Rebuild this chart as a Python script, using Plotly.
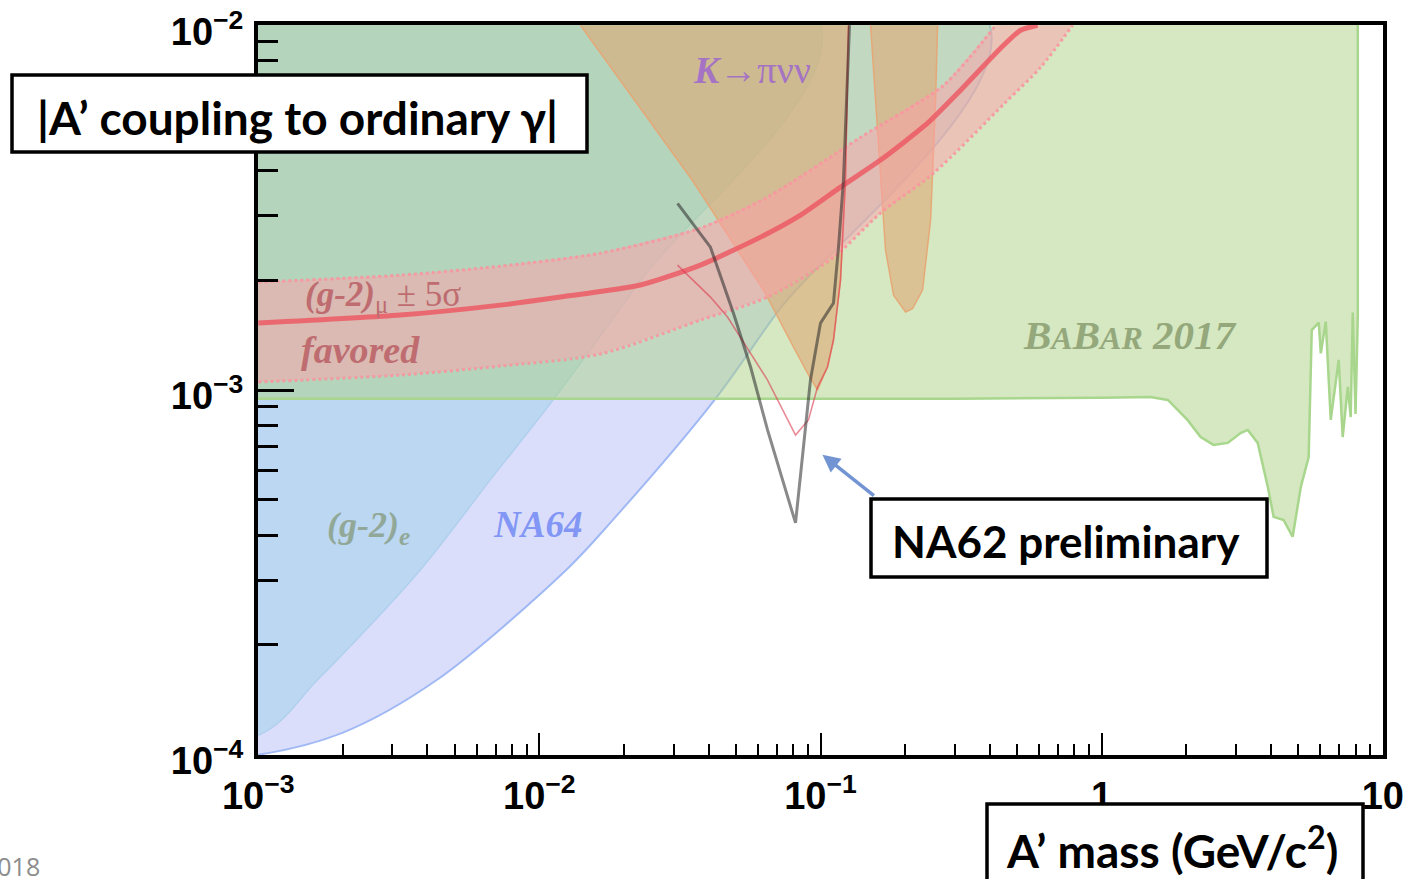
import numpy as np
import plotly.graph_objects as go

# ---------------- data ----------------
# NA64 exclusion edge (region above-left is excluded)
na64_x = [1e-3, 2.0e-3, 4.3e-3, 1.24e-2, 1.8e-2, 4.2e-2, 7.0e-2, 0.40]
na64_y = [1.0e-4, 1.15e-4, 1.6e-4, 3.2e-4, 4.35e-4, 9.4e-4, 1.63e-3, 1e-2]

# (g-2)_e exclusion edge
ge_x = [1e-3, 1.62e-3, 3.77e-3, 6.69e-3, 1.12e-2, 2.29e-2, 0.10]
ge_y = [1.13e-4, 1.6e-4, 3.21e-4, 5.67e-4, 9.4e-4, 2.0e-3, 1e-2]

# BaBar 2017 lower edge
bb_x = [1e-3, 0.3, 1.0, 1.49, 1.72, 2.02, 2.25, 2.50, 2.81, 3.12, 3.31, 3.59, 3.90, 4.09,
        4.44, 4.78, 5.11, 5.45, 5.59, 5.92, 6.02, 6.27, 6.53, 6.97, 7.20, 7.51, 7.69,
        7.82, 8.0, 8.15]
bb_y = [9.45e-4, 9.47e-4, 9.52e-4, 9.57e-4, 9.39e-4, 8.28e-4, 7.43e-4, 7.07e-4, 7.16e-4,
        7.62e-4, 7.77e-4, 7.16e-4, 5.42e-4, 4.49e-4, 4.40e-4, 3.96e-4, 5.42e-4, 6.55e-4,
        1.46e-3, 1.53e-3, 1.26e-3, 1.54e-3, 8.28e-4, 1.21e-3, 7.43e-4, 1.02e-3, 8.43e-4,
        1.63e-3, 8.6e-4, 1.59e-3]

# K -> pi nu nu excluded regions
k_x = [1.40e-2, 3.50e-2, 6.27e-2, 7.21e-2, 8.02e-2, 8.99e-2, 9.76e-2, 0.1059, 0.1112,
       0.1178, 0.1227, 0.1258]
k_y = [1e-2, 3.76e-3, 1.88e-3, 1.526e-3, 1.311e-3, 1.113e-3, 1.0e-3, 1.156e-3, 1.371e-3,
       2.0e-3, 3.76e-3, 1e-2]
k2_x = [0.1507, 0.1609, 0.1703, 0.1819, 0.2007, 0.2125, 0.2307, 0.2464, 0.2567, 0.2609]
k2_y = [1e-2, 4.54e-3, 2.42e-3, 1.82e-3, 1.636e-3, 1.67e-3, 1.88e-3, 2.92e-3, 6.23e-3, 1e-2]

# (g-2)_mu favoured band
gm_x = [1e-3, 3.20e-3, 7.26e-3, 1.188e-2, 2.288e-2, 3.74e-2, 6.12e-2, 8.49e-2, 0.1178,
        0.1635, 0.2403, 0.3150, 0.4371, 0.5149, 0.5918]
gm_y = [1.526e-3, 1.605e-3, 1.709e-3, 1.798e-3, 1.94e-3, 2.2e-3, 2.625e-3, 3.017e-3, 3.6e-3,
        4.27e-3, 5.39e-3, 6.64e-3, 8.65e-3, 9.69e-3, 1e-2]
gmu_x = [1e-3, 3.20e-3, 7.26e-3, 1.649e-2, 3.74e-2, 6.48e-2, 0.1388, 0.2740, 0.4196]
gmu_y = [1.976e-3, 2.065e-3, 2.186e-3, 2.373e-3, 2.78e-3, 3.38e-3, 4.93e-3, 6.85e-3, 1e-2]
gml_x = [1e-3, 3.20e-3, 7.26e-3, 1.649e-2, 3.74e-2, 6.48e-2, 0.1112, 0.1635, 0.2525,
         0.4553, 0.6067, 0.7884]
gml_y = [1.052e-3, 1.099e-3, 1.163e-3, 1.255e-3, 1.555e-3, 1.798e-3, 2.31e-3, 3.055e-3,
         3.93e-3, 6.15e-3, 7.67e-3, 1e-2]

# NA62 preliminary limits
n62b_x = [3.10e-2, 4.06e-2, 4.30e-2, 4.90e-2, 5.64e-2, 6.48e-2, 8.15e-2, 8.70e-2, 9.21e-2,
          0.100, 0.1112, 0.1159, 0.1207, 0.1268]
n62b_y = [3.25e-3, 2.464e-3, 2.17e-3, 1.626e-3, 1.156e-3, 7.77e-4, 4.32e-4, 6.98e-4, 1.065e-3,
          1.526e-3, 1.731e-3, 2.464e-3, 3.76e-3, 1e-2]
n62r_x = [3.10e-2, 4.06e-2, 4.67e-2, 6.48e-2, 8.15e-2, 9.06e-2, 9.76e-2, 0.1059, 0.1112,
          0.1178, 0.1227, 0.1258]
n62r_y = [2.2e-3, 1.798e-3, 1.585e-3, 1.065e-3, 7.52e-4, 8.28e-4, 1.019e-3, 1.156e-3, 1.371e-3,
          2.0e-3, 3.76e-3, 1e-2]

x_tickvals = [1e-3, 1e-2, 1e-1, 1, 10]
x_ticktext = ["10<sup>\u22123</sup>", "10<sup>\u22122</sup>", "10<sup>\u22121</sup>", "1", "10"]
y_tickvals = [1e-4, 1e-3, 1e-2]
y_ticktext = ["10<sup>\u22124</sup>", "10<sup>\u22123</sup>", "10<sup>\u22122</sup>"]

XMIN, XMAX, YMIN, YMAX = 1e-3, 10.0, 1e-4, 1e-2
# far-away corner used only to close polygons outside the visible frame
FAR_X, FAR_Y = 1e-4, 1e-1

# ---------------- layout geometry ----------------
W, H = 1410, 879
L, R, T, B = 258, 1383, 25, 755
EPS = 0.0008  # tiny range padding so that edge ticks are kept


def px(xp):
    return (xp - L) / (R - L)


def py(yp):
    return (B - yp) / (B - T)


fig = go.Figure()

# NA64 (lavender)
fig.add_trace(go.Scatter(
    x=[FAR_X] + na64_x + [FAR_X], y=[YMIN * 0.9] + na64_y + [FAR_Y], fill="toself", mode="lines",
    fillcolor="rgb(219,222,250)", line=dict(color="rgb(160,185,245)", width=2, shape="spline",
                                            smoothing=0.9),
    hoverinfo="skip", showlegend=False))

# (g-2)_e (light blue)
fig.add_trace(go.Scatter(
    x=[FAR_X] + ge_x + [FAR_X], y=[ge_y[0] * 0.9] + ge_y + [FAR_Y], fill="toself", mode="lines",
    fillcolor="rgb(188,215,241)", line=dict(color="rgb(175,208,238)", width=1.5, shape="spline",
                                            smoothing=0.9),
    hoverinfo="skip", showlegend=False))

# BaBar 2017 (green, translucent)
fig.add_trace(go.Scatter(
    x=[FAR_X] + bb_x + [bb_x[-1], FAR_X], y=[bb_y[0]] + bb_y + [FAR_Y, FAR_Y], fill="toself",
    mode="lines", fillcolor="rgba(171,209,133,0.5)", line=dict(color="rgb(168,214,140)", width=2.5),
    hoverinfo="skip", showlegend=False))

# K -> pi nu nu (tan, translucent)
for xs, ys in ((k_x, k_y), (k2_x, k2_y)):
    fig.add_trace(go.Scatter(
        x=xs, y=ys, fill="toself", mode="lines",
        fillcolor="rgba(222,168,117,0.6)", line=dict(color="rgba(232,165,115,0.9)", width=1.5),
        hoverinfo="skip", showlegend=False))

# (g-2)_mu band
fig.add_trace(go.Scatter(
    x=gmu_x + gml_x[::-1], y=gmu_y + gml_y[::-1], fill="toself", mode="none",
    fillcolor="rgba(255,160,170,0.5)", hoverinfo="skip", showlegend=False))
for xs, ys in ((gmu_x, gmu_y), (gml_x, gml_y)):
    fig.add_trace(go.Scatter(
        x=xs, y=ys, mode="lines",
        line=dict(color="rgba(248,150,160,0.9)", width=3, dash="dot", shape="spline", smoothing=0.8),
        hoverinfo="skip", showlegend=False))
fig.add_trace(go.Scatter(
    x=gm_x, y=gm_y, mode="lines",
    line=dict(color="rgba(236,90,100,0.85)", width=5, shape="spline", smoothing=0.6),
    hoverinfo="skip", showlegend=False))

# NA62 preliminary curves
fig.add_trace(go.Scatter(
    x=n62r_x, y=n62r_y, mode="lines", line=dict(color="rgba(220,60,80,0.6)", width=1.6),
    hoverinfo="skip", showlegend=False))
fig.add_trace(go.Scatter(
    x=n62b_x, y=n62b_y, mode="lines", line=dict(color="rgba(40,40,40,0.55)", width=3),
    hoverinfo="skip", showlegend=False))

# ---------------- axes ----------------
minor_x = [m * 10.0 ** k for k in range(-3, 1) for m in range(2, 10)]
minor_y = [m * 10.0 ** k for k in range(-4, -2) for m in range(2, 10)]
tickfont = dict(family="Liberation Sans", size=38, color="black", weight="bold")

fig.update_xaxes(
    type="log", range=[np.log10(XMIN) - EPS, np.log10(XMAX) + EPS],
    tickmode="array", tickvals=x_tickvals, ticktext=x_ticktext,
    ticks="inside", ticklen=22, tickwidth=2, tickcolor="black",
    minor=dict(tickmode="array", tickvals=minor_x, ticks="inside", ticklen=11,
               tickwidth=2, tickcolor="black", showgrid=False),
    showline=True, linewidth=4, linecolor="black", mirror=True, ticklabeloverflow="allow",
    showgrid=False, zeroline=False, tickfont=tickfont, ticklabelstandoff=4)
fig.update_yaxes(
    type="log", range=[np.log10(YMIN) - EPS, np.log10(YMAX) + EPS],
    tickmode="array", tickvals=y_tickvals, ticktext=y_ticktext,
    ticks="inside", ticklen=36, tickwidth=2.5, tickcolor="black",
    minor=dict(tickmode="array", tickvals=minor_y, ticks="inside", ticklen=20,
               tickwidth=2.5, tickcolor="black", showgrid=False),
    showline=True, linewidth=4, linecolor="black", mirror=True, ticklabeloverflow="allow",
    showgrid=False, zeroline=False, tickfont=tickfont, ticklabelstandoff=3, ticklabelshift=6)

# ---------------- in-plot labels ----------------
serif = "Liberation Serif"
labels = [
    (752, 70, "<b><i>K</i></b>\u2192\u03c0\u03bd\u03bd", "rgb(165,115,195)", 38),
    (383, 296, "<b><i>(g-2)</i></b><sub>\u03bc</sub> \u00b1 5\u03c3", "rgb(190,108,112)", 35),
    (360, 350, "<b><i>favored</i></b>", "rgb(190,108,112)", 38),
    (368, 527, "<b><i>(g-2)</i></b><sub><b><i>e</i></b></sub>", "rgb(145,168,152)", 36),
    (537, 524, "<b><i>NA64</i></b>", "rgb(130,150,245)", 37),
    (1130, 335, "<b><i>B<span style='font-size:32px'>A</span>B<span style='font-size:32px'>AR</span> 2017</i></b>",
     "rgb(148,168,124)", 41),
]
for xp, yp, txt, col, sz in labels:
    fig.add_annotation(x=px(xp), y=py(yp), xref="paper", yref="paper", text=txt,
                       showarrow=False, xanchor="center", yanchor="middle",
                       font=dict(family=serif, size=sz, color=col))

# arrow pointing at NA62 curve
fig.add_annotation(x=np.log10(0.1016), y=np.log10(6.64e-4), xref="x", yref="y",
                   ax=53, ay=42, text="", showarrow=True, arrowhead=2, arrowsize=1,
                   arrowwidth=3.5, arrowcolor="rgb(115,148,210)")

# ---------------- boxed slide texts ----------------
boxes = [
    ((12, 75, 587, 152), (297, 117), "|A\u2019 coupling to ordinary \u03b3|", 46),
    ((871, 499, 1267, 577), (1066, 541), "NA62 preliminary", 44),
    ((987, 804, 1363, 890), (1172, 847), "A\u2019 mass (GeV/c<sup>2</sup>)", 46),
]
for (x0, y0, x1, y1), (tx, ty), txt, fs in boxes:
    fig.add_shape(type="rect", xref="paper", yref="paper",
                  x0=px(x0), x1=px(x1), y0=py(y1), y1=py(y0),
                  line=dict(color="black", width=3.5), fillcolor="white", layer="above")
    fig.add_annotation(x=px(tx), y=py(ty), xref="paper", yref="paper", text="<b>" + txt + "</b>",
                       showarrow=False, xanchor="center", yanchor="middle",
                       font=dict(family="Lato", size=fs, color="black"))

# footer fragment
fig.add_annotation(x=px(42), y=py(866), xref="paper", yref="paper", text="2018",
                   showarrow=False, xanchor="right", yanchor="middle",
                   font=dict(family="Open Sans", size=25, color="rgb(140,140,140)"))

fig.update_layout(
    width=W, height=H, margin=dict(l=L, r=W - R, t=T, b=H - B, autoexpand=False),
    paper_bgcolor="white", plot_bgcolor="white", showlegend=False)

fig.write_html("out.html", config={"displayModeBar": False},
               post_script="document.body.style.margin='0px';")
